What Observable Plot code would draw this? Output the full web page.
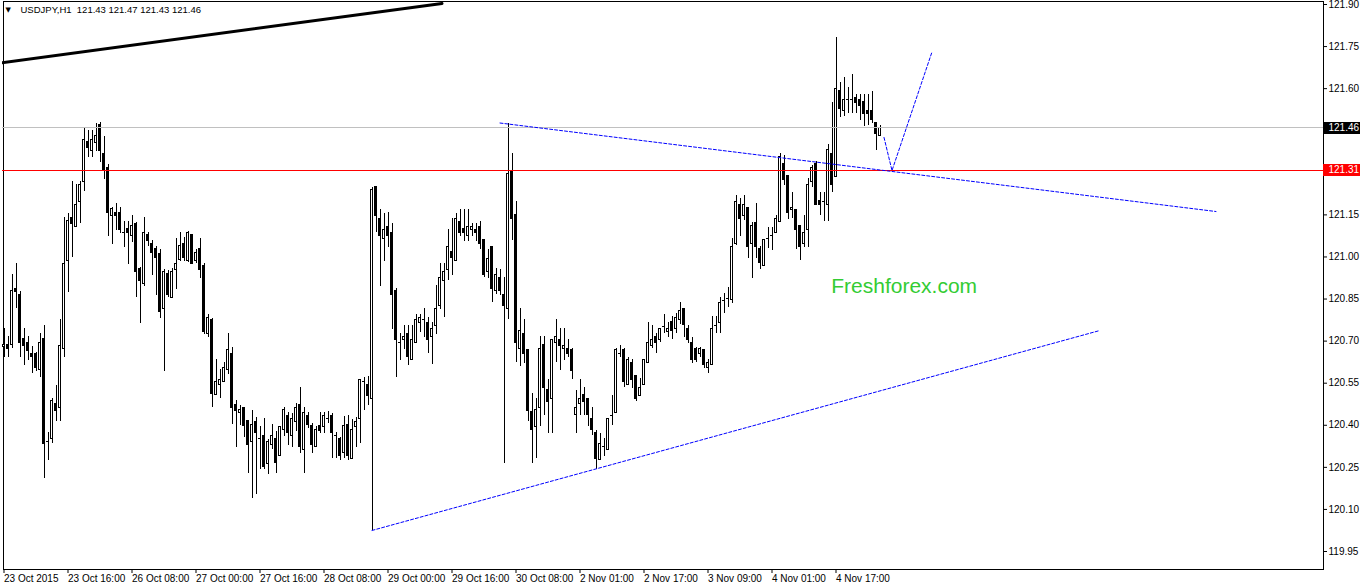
<!DOCTYPE html>
<html><head><meta charset="utf-8">
<script src="https://cdn.jsdelivr.net/npm/d3@7"></script>
<script src="https://cdn.jsdelivr.net/npm/@observablehq/plot@0.6"></script>
<style>html,body{margin:0;padding:0;background:#fff;overflow:hidden}</style>
</head><body><div id="chart"></div>
<script>
// ---- header ----
const symbolTitle = "USDJPY,H1";
const lastQuote = ["121.43", "121.47", "121.43", "121.46"];
const watermarkText = "Freshforex.com";
const watermarkBar = 206.8;
const watermarkPrice = 120.894;

// ---- H1 candles (bar index = position) ----
const opens = [120.679,120.685,120.685,120.887,120.865,120.706,120.694,120.655,120.655,120.596,
120.706,120.343,120.352,120.475,120.463,120.673,120.985,121.139,121.107,121.196,
121.269,121.409,121.377,121.406,121.469,121.368,121.318,121.146,121.158,121.158,
121.087,121.098,121.074,121.118,120.956,120.905,121.077,121.047,121.027,121.009,
120.815,120.938,120.855,120.954,120.988,121.047,120.985,121.077,120.985,121.027,
120.966,120.726,120.777,120.507,120.545,120.554,120.596,120.655,120.473,120.443,
120.462,120.415,120.340,120.413,120.352,120.363,120.262,120.331,120.352,120.290,
120.384,120.432,120.361,120.411,120.473,120.312,120.432,120.396,120.322,120.396,
120.393,120.423,120.432,120.363,120.352,120.300,120.401,120.280,120.393,120.423,
120.556,120.544,120.494,121.249,121.136,121.065,121.106,121.086,120.877,120.694,
120.704,120.726,120.633,120.694,120.765,120.777,120.765,120.714,120.753,120.825,
120.914,120.954,121.017,120.987,121.126,121.098,121.076,121.097,121.097,121.106,
121.059,120.946,121.037,120.878,120.926,120.866,120.816,121.308,121.148,120.673,
120.726,120.667,120.447,120.394,120.463,120.685,120.524,120.495,120.694,120.705,
120.673,120.673,120.667,120.435,120.475,120.507,120.495,120.424,120.372,120.275,
120.325,120.313,120.435,120.444,120.655,120.667,120.545,120.623,120.574,120.504,
120.545,120.623,120.682,120.714,120.705,120.753,120.732,120.768,120.744,120.777,
120.816,120.744,120.694,120.673,120.655,120.667,120.605,120.616,120.754,120.764,
120.845,120.853,120.845,121.047,121.187,121.145,121.175,121.047,121.120,121.029,
120.966,121.065,121.077,121.085,121.124,121.330,121.287,121.166,121.169,121.109,
121.045,121.097,121.267,121.330,121.198,121.196,121.186,121.368,121.285,121.590,
121.519,121.563,121.560,121.567,121.560,121.552,121.520,121.519,121.478,121.43];
const highs = [120.744,120.717,120.938,120.976,120.877,120.744,120.715,120.682,120.659,120.726,
120.756,120.376,120.497,120.540,120.777,121.139,121.154,121.269,121.259,121.269,
121.457,121.451,121.451,121.477,121.478,121.430,121.330,121.178,121.190,121.178,
121.128,121.128,121.148,121.124,120.964,121.139,121.086,121.059,121.039,121.026,
120.956,120.952,120.958,121.067,121.086,121.069,121.089,121.077,121.027,121.065,
120.976,120.794,120.780,120.634,120.598,120.625,120.726,120.679,120.488,120.470,
120.462,120.415,120.453,120.429,120.396,120.423,120.348,120.403,120.378,120.393,
120.462,120.444,120.441,120.476,120.533,120.462,120.444,120.405,120.396,120.444,
120.444,120.450,120.441,120.375,120.357,120.431,120.435,120.419,120.429,120.562,
120.571,120.574,121.249,121.249,121.168,121.156,121.157,121.118,120.886,120.726,
120.756,120.756,120.756,120.795,120.794,120.817,120.785,120.768,120.898,120.976,
120.976,121.097,121.136,121.156,121.168,121.168,121.168,121.118,121.118,121.126,
121.059,121.027,121.037,120.958,120.955,120.928,121.477,121.370,121.199,120.816,
120.777,120.667,120.515,120.495,120.717,120.717,120.562,120.705,120.777,120.744,
120.744,120.705,120.673,120.524,120.562,120.536,120.495,120.465,120.382,120.370,
120.352,120.424,120.507,120.675,120.685,120.675,120.643,120.635,120.574,120.566,
120.634,120.768,120.754,120.726,120.744,120.794,120.768,120.786,120.798,120.839,
120.816,120.756,120.712,120.679,120.679,120.667,120.635,120.786,120.786,120.857,
120.869,120.890,121.065,121.219,121.207,121.219,121.175,121.124,121.189,121.037,
121.059,121.106,121.106,121.148,121.368,121.362,121.287,121.231,121.169,121.109,
121.148,121.279,121.326,121.342,121.231,121.231,121.401,121.552,121.784,121.623,
121.641,121.603,121.650,121.579,121.579,121.579,121.579,121.590,121.480,121.47];
const lows = [120.643,120.643,120.673,120.815,120.643,120.614,120.631,120.584,120.590,120.572,
120.212,120.275,120.334,120.412,120.412,120.643,120.875,120.997,121.107,121.118,
121.235,121.356,121.356,121.377,121.338,121.276,121.074,121.045,121.095,121.085,
121.035,120.973,121.053,120.855,120.764,120.896,121.039,120.934,120.863,120.782,
120.593,120.857,120.855,120.884,120.985,120.985,120.982,120.973,120.976,120.925,
120.723,120.714,120.463,120.507,120.495,120.554,120.580,120.402,120.322,120.399,
120.357,120.229,120.140,120.152,120.241,120.241,120.223,120.312,120.229,120.290,
120.361,120.328,120.320,120.378,120.300,120.229,120.387,120.300,120.322,120.369,
120.369,120.405,120.280,120.280,120.274,120.280,120.274,120.280,120.322,120.334,
120.453,120.470,120.025,121.086,120.896,120.985,121.035,120.740,120.571,120.631,
120.670,120.613,120.633,120.694,120.732,120.714,120.655,120.615,120.724,120.811,
120.783,120.916,120.934,120.987,121.073,121.055,121.055,121.073,121.056,121.027,
120.926,120.924,120.837,120.865,120.863,120.262,120.776,121.059,120.622,120.608,
120.619,120.412,120.263,120.281,120.394,120.435,120.372,120.372,120.625,120.596,
120.631,120.643,120.562,120.372,120.435,120.435,120.394,120.364,120.242,120.275,
120.287,120.313,120.400,120.444,120.643,120.533,120.545,120.530,120.483,120.504,
120.545,120.623,120.675,120.655,120.694,120.726,120.714,120.705,120.726,120.760,
120.714,120.691,120.619,120.625,120.643,120.604,120.584,120.616,120.726,120.726,
120.798,120.821,120.835,121.041,121.074,121.130,120.996,120.925,120.996,120.954,
120.966,121.029,121.023,121.085,121.124,121.255,121.134,121.136,121.025,120.988,
121.035,121.035,121.249,121.186,121.148,121.127,121.127,121.231,121.284,121.498,
121.501,121.510,121.510,121.513,121.487,121.466,121.469,121.475,121.380,121.43];
const closes = [120.685,120.673,120.877,120.875,120.693,120.682,120.665,120.643,120.605,120.694,
120.334,120.340,120.485,120.451,120.682,120.976,121.127,121.118,121.187,121.257,
121.418,121.389,121.418,121.430,121.377,121.308,121.156,121.170,121.146,121.095,
121.087,121.085,121.109,120.946,120.914,121.086,121.057,121.015,120.996,120.804,
120.948,120.863,120.946,120.976,121.038,120.996,121.086,120.976,121.015,120.954,
120.732,120.783,120.510,120.554,120.562,120.605,120.667,120.463,120.450,120.453,
120.399,120.331,120.401,120.372,120.352,120.251,120.340,120.361,120.266,120.393,
120.453,120.373,120.423,120.462,120.322,120.444,120.401,120.331,120.384,120.381,
120.432,120.423,120.372,120.363,120.290,120.396,120.290,120.384,120.413,120.562,
120.556,120.504,121.237,121.145,121.076,121.097,121.073,120.865,120.704,120.694,
120.716,120.643,120.704,120.776,120.783,120.777,120.704,120.744,120.815,120.926,
120.948,121.037,120.996,121.136,121.085,121.085,121.106,121.106,121.086,121.047,
120.936,120.993,120.886,120.936,120.878,120.825,121.297,121.136,120.693,120.735,
120.655,120.451,120.384,120.453,120.673,120.534,120.483,120.705,120.714,120.682,
120.682,120.655,120.593,120.463,120.495,120.483,120.435,120.384,120.281,120.334,
120.325,120.424,120.435,120.667,120.655,120.554,120.634,120.562,120.495,120.534,
120.634,120.694,120.705,120.694,120.744,120.753,120.744,120.735,120.783,120.806,
120.756,120.705,120.634,120.634,120.673,120.616,120.623,120.744,120.754,120.837,
120.845,120.853,121.037,121.195,121.136,121.187,121.035,121.109,121.035,120.978,
121.059,121.065,121.077,121.136,121.358,121.276,121.156,121.175,121.097,121.035,
121.086,121.258,121.318,121.186,121.186,121.196,121.380,121.258,121.599,121.526,
121.560,121.560,121.557,121.548,121.538,121.510,121.510,121.489,121.437,121.46];

// ---- time axis ----
const timeTickBars = [0,16,32,48,64,80,96,112,128,144,160,176,192,208];
const timeTickLabels = ["23 Oct 2015","23 Oct 16:00","26 Oct 08:00","27 Oct 00:00","27 Oct 16:00","28 Oct 08:00","29 Oct 00:00","29 Oct 16:00","30 Oct 08:00","2 Nov 01:00","2 Nov 17:00","3 Nov 09:00","4 Nov 01:00","4 Nov 17:00"];

// ---- price axis ----
const priceTicks = [121.90,121.75,121.60,121.45,121.30,121.15,121.00,120.85,120.70,120.55,120.40,120.25,120.10,119.95];
const coveredTicks = [121.45, 121.30]; // hidden under the price boxes
const bidPrice = 121.46;
const levelPrice = 121.31;

// ---- drawn objects (bar, price) ----
const blackTrendBars = [-1, 109.5];
const blackTrendPrices = [121.6914, 121.9036];
const upperTrendBars = [124, 303];
const upperTrendPrices = [121.4775, 121.162];
const lowerTrendBars = [92, 274];
const lowerTrendPrices = [120.025, 120.738];
const forecastBars = [220, 222, 232];
const forecastPrices = [121.426, 121.308, 121.731];

// ---- build ----
const candles = opens.map((o, i) => ({i, o, h: highs[i], l: lows[i], c: closes[i]}));
const bodies = candles.filter(d => Math.abs(d.o - d.c) >= 0.004);
const dojis = candles.filter(d => Math.abs(d.o - d.c) < 0.004);
const pts = (bars, prices) => bars.map((b, k) => ({i: b, p: prices[k]}));

const font = "'Liberation Sans', Arial, 'DejaVu Sans', sans-serif";

const chart = Plot.plot({
  width: 1362,
  height: 586,
  marginLeft: 2,
  marginRight: 39,
  marginTop: 0,
  marginBottom: 17,
  x: {type: "linear", domain: [0, 329], range: [3.5, 3.5 + 4 * 329]},
  y: {type: "linear", domain: [121.90, 119.95], range: [4, 551]},
  style: {fontFamily: font, fontSize: "10px", background: "white", color: "black"},
  marks: [
    Plot.frame({stroke: "black", inset: 0.5, shapeRendering: "crispEdges"}),
    // wicks
    Plot.ruleX(candles, {x: "i", y1: "l", y2: "h", stroke: "black", strokeWidth: 1, clip: true, shapeRendering: "crispEdges"}),
    // bodies
    Plot.rect(bodies, {
      x1: d => d.i - 0.25, x2: d => d.i + 0.25, y1: "o", y2: "c",
      fill: d => d.c > d.o ? "white" : "black", stroke: "black", strokeWidth: 1,
      clip: true, shapeRendering: "crispEdges"
    }),
    Plot.ruleY(dojis, {y: "o", x1: d => d.i - 0.375, x2: d => d.i + 0.375, stroke: "black", clip: true, shapeRendering: "crispEdges"}),
    // horizontal lines
    Plot.ruleY([bidPrice], {stroke: "#c0c0c0", shapeRendering: "crispEdges"}),
    Plot.ruleY([levelPrice], {stroke: "#ff0000", shapeRendering: "crispEdges"}),
    // trend lines
    Plot.line(pts(blackTrendBars, blackTrendPrices), {x: "i", y: "p", stroke: "black", strokeWidth: 3, clip: true}),
    Plot.line(pts(upperTrendBars, upperTrendPrices), {x: "i", y: "p", stroke: "#0000ff", strokeWidth: 1, strokeDasharray: "3,2", clip: true}),
    Plot.line(pts(lowerTrendBars, lowerTrendPrices), {x: "i", y: "p", stroke: "#0000ff", strokeWidth: 1, strokeDasharray: "3,2", clip: true}),
    Plot.line(pts(forecastBars, forecastPrices), {x: "i", y: "p", stroke: "#0000ff", strokeWidth: 1, strokeDasharray: "3,2", clip: true}),
    // watermark
    Plot.text([watermarkText], {x: () => watermarkBar, y: () => watermarkPrice, text: d => d, textAnchor: "start", lineAnchor: "middle", fontSize: 21, fill: "#33cc33"}),
    // header
    Plot.text(["\u25BC"], {frameAnchor: "top-left", dx: 3, dy: 7, text: d => d, textAnchor: "start", lineAnchor: "top", fontSize: 7, fontFamily: "'DejaVu Sans', sans-serif", fill: "black"}),
    Plot.text([symbolTitle + "  " + lastQuote.join(" ")], {frameAnchor: "top-left", dx: 18, dy: 6, text: d => d, textAnchor: "start", lineAnchor: "top", fontSize: 9.5, fill: "black"}),
    // axes
    Plot.axisY(priceTicks, {anchor: "right", tickSize: 3, tickPadding: 2, tickFormat: d => coveredTicks.includes(d) ? "" : d.toFixed(2), label: null, fontSize: 10}),
    Plot.axisX(timeTickBars, {anchor: "bottom", tickSize: 4, tickPadding: 1, tickFormat: d => timeTickLabels[timeTickBars.indexOf(d)], textAnchor: "start", dx: 0, label: null, fontSize: 10}),
    // price boxes
    Plot.ruleY([bidPrice], {insetLeft: 1321, insetRight: -37, stroke: "black", strokeWidth: 12, shapeRendering: "crispEdges"}),
    Plot.text([bidPrice], {y: d => d, frameAnchor: "right", dx: 5, textAnchor: "start", text: d => d.toFixed(2), fill: "white", fontSize: 10}),
    Plot.ruleY([levelPrice], {insetLeft: 1321, insetRight: -37, stroke: "#ff0000", strokeWidth: 12, shapeRendering: "crispEdges"}),
    Plot.text([levelPrice], {y: d => d, frameAnchor: "right", dx: 5, textAnchor: "start", text: d => d.toFixed(2), fill: "white", fontSize: 10})
  ]
});
document.getElementById("chart").appendChild(chart);
</script>
</body></html>
